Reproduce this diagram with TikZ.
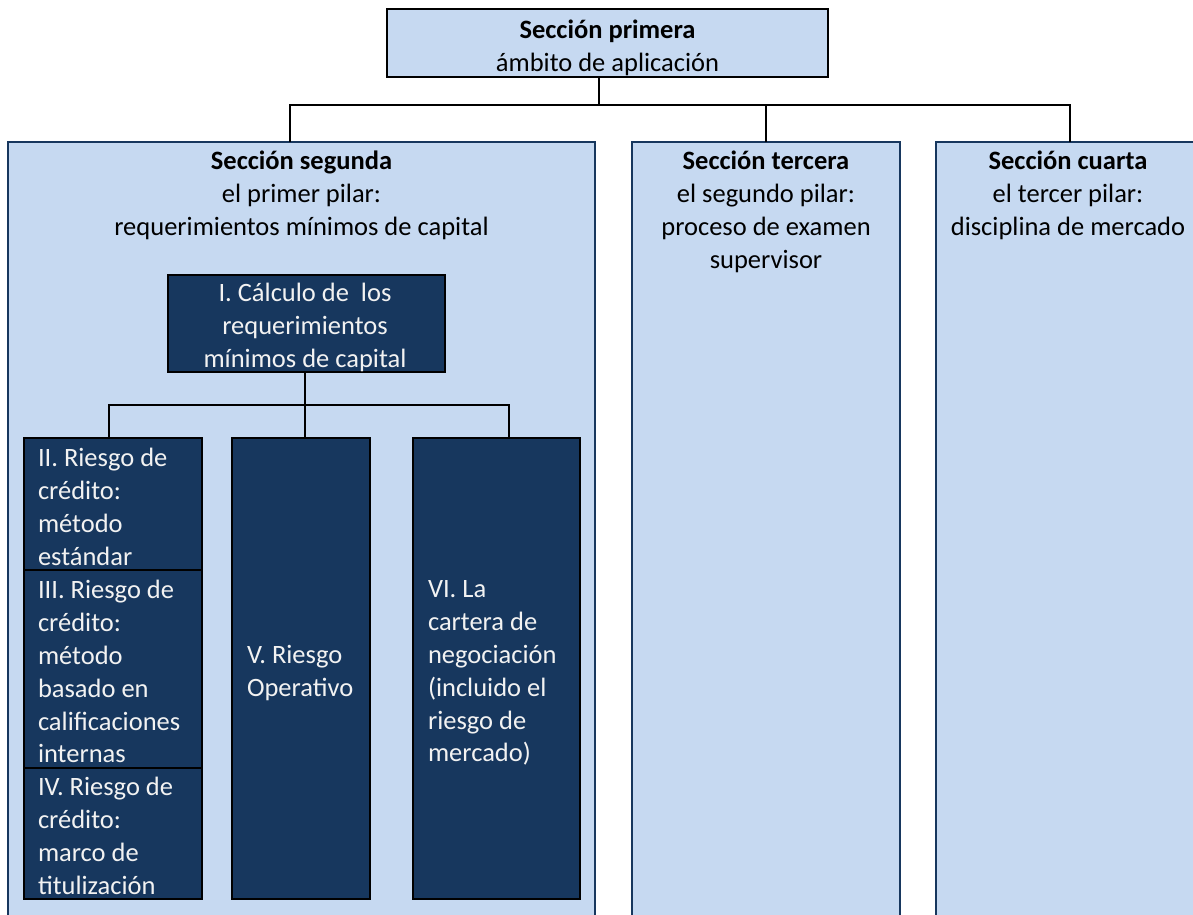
\documentclass[tikz,border=0pt]{standalone}
\usepackage{fontspec}
\setmainfont{Carlito}
\definecolor{paleblue}{RGB}{198,217,241}
\definecolor{navy}{RGB}{23,55,94}
\definecolor{offwhite}{RGB}{242,242,242}
\begin{document}
\begin{tikzpicture}[x=1pt,y=-1pt,
  txt/.style={font=\fontsize{26.5}{33}\selectfont, inner sep=0pt, outer sep=0pt},
  dtxt/.style={font=\fontsize{26.5}{32.8}\selectfont, inner sep=0pt, outer sep=0pt, text=offwhite},
  headbox/.style={draw=black, line width=2pt, fill=paleblue, inner sep=0pt, outer sep=0pt, anchor=north west},
  panel/.style={draw=navy, line width=2pt, fill=paleblue, inner sep=0pt, outer sep=0pt, anchor=north west},
  darkbox/.style={draw=black, line width=2pt, fill=navy, inner sep=0pt, outer sep=0pt, anchor=north west},
  link/.style={draw=black, line width=1.4pt}]
\useasboundingbox (0,0) rectangle (1193,914);

% top box
\node[headbox, minimum width=441pt, minimum height=68pt] (top) at (387,9) {};
\node[txt, align=center, anchor=north] (toptxt) at (607.5,14.9)
  {\strut\textbf{Sección primera}\\ámbito de aplicación};

% three pillar panels (running past the lower and right edges)
\node[panel, minimum width=587pt, minimum height=800pt] (seg) at (8,142) {};
\node[panel, minimum width=268pt, minimum height=800pt] (ter) at (632,142) {};
\node[panel, minimum width=268pt, minimum height=800pt] (cua) at (936,142) {};

\node[txt, align=center, anchor=north] (segtxt) at (301.5,145.9)
  {\strut\textbf{Sección segunda}\\el primer pilar:\\requerimientos mínimos de capital};
\node[txt, align=center, anchor=north] (tertxt) at (766,145.9)
  {\strut\textbf{Sección tercera}\\el segundo pilar:\\proceso de examen\\supervisor};
\node[txt, align=center, anchor=north] (cuatxt) at (1068,145.9)
  {\strut\textbf{Sección cuarta}\\el tercer pilar:\\disciplina de mercado};

% first pillar breakdown
\node[darkbox, minimum width=277pt, minimum height=97pt] (calc) at (168,275) {};
\node[dtxt, align=center, anchor=north] (calctxt) at (305,278.9)
  {\strut I. Cálculo de~ los\\requerimientos\\mínimos de capital};

\node[darkbox, minimum width=178pt, minimum height=132pt] (rII) at (24,438) {};
\node[darkbox, minimum width=178pt, minimum height=198pt] (rIII) at (24,570) {};
\node[darkbox, minimum width=178pt, minimum height=131pt] (rIV) at (24,768) {};
\node[darkbox, minimum width=138pt, minimum height=461pt] (rV) at (232,438) {};
\node[darkbox, minimum width=167pt, minimum height=461pt] (rVI) at (413,438) {};

\node[dtxt, align=left, anchor=north west] (rIItxt) at (38,443.9)
  {\strut II. Riesgo de\\crédito:\\método\\estándar};
\node[dtxt, align=left, anchor=north west] (rIIItxt) at (38,575.9)
  {\strut III. Riesgo de\\crédito:\\método\\basado en\\calificaciones\\internas};
\node[dtxt, align=left, anchor=north west] (rIVtxt) at (38,772.9)
  {\strut IV. Riesgo de\\crédito:\\marco de\\titulización};
\node[dtxt, align=left, anchor=north west] (rVtxt) at (247,640.9)
  {\strut V. Riesgo\\Operativo};
\node[dtxt, align=left, anchor=north west] (rVItxt) at (428,574.9)
  {\strut VI. La\\cartera de\\negociación\\(incluido el\\riesgo de\\mercado)};

% connectors
\coordinate (topbus) at (599,105);
\draw[link] (top.south -| topbus) -- (topbus);
\draw[link] ([xshift=-11.5pt]seg.north) |- (topbus);
\draw[link] (ter.north) |- (topbus);
\draw[link] (cua.north) |- (topbus);

\coordinate (subbus) at (305,405);
\draw[link] (calc.south -| subbus) -- (subbus);
\draw[link] ([xshift=-4pt]rII.north) |- (subbus);
\draw[link] ([xshift=4pt]rV.north) |- (subbus);
\draw[link] ([xshift=12.5pt]rVI.north) |- (subbus);
\end{tikzpicture}
\end{document}
